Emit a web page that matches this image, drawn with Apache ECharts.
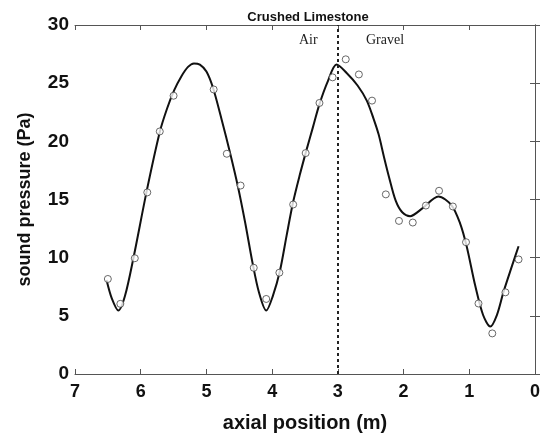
<!DOCTYPE html>
<html>
<head>
<meta charset="utf-8">
<script src="https://cdn.jsdelivr.net/npm/echarts@6/dist/echarts.min.js"></script>
<style>
html,body{margin:0;padding:0;background:#fff;}
#c{width:547px;height:438px;}
</style>
</head>
<body>
<div id="c"></div>
<script>
// Measured points (axial position m, sound pressure Pa)
const measX = [6.50, 6.31, 6.09, 5.90, 5.71, 5.50, 4.89, 4.69, 4.48, 4.28, 4.09, 3.89, 3.68, 3.49, 3.28, 3.08, 2.88, 2.68, 2.48, 2.27, 2.07, 1.86, 1.66, 1.46, 1.25, 1.05, 0.86, 0.65, 0.45, 0.25];
const measY = [8.17, 6.03, 9.95, 15.61, 20.85, 23.92, 24.46, 18.93, 16.2, 9.13, 6.45, 8.71, 14.57, 18.99, 23.3, 25.5, 27.05, 25.75, 23.5, 15.44, 13.16, 13.02, 14.48, 15.75, 14.4, 11.33, 6.06, 3.49, 7.02, 9.85];

// Fitted curve
const fitX = [6.52, 6.44, 6.34, 6.24, 6.11, 5.91, 5.71, 5.60, 5.49, 5.38, 5.28, 5.19, 5.10, 5.00, 4.90, 4.77, 4.64, 4.52, 4.41, 4.30, 4.20, 4.09, 3.99, 3.88, 3.78, 3.68, 3.58, 3.48, 3.38, 3.28, 3.15, 3.02, 2.87, 2.70, 2.56, 2.46, 2.38, 2.30, 2.22, 2.12, 2.02, 1.90, 1.72, 1.47, 1.27, 1.14, 1.04, 0.91, 0.79, 0.68, 0.58, 0.48, 0.35, 0.25];
const fitY = [8.08, 6.5, 5.45, 6.7, 9.99, 15.7, 20.8, 22.8, 24.4, 25.6, 26.4, 26.7, 26.6, 26.0, 24.6, 21.9, 19.0, 16.1, 13.0, 9.6, 7.0, 5.45, 6.7, 8.9, 11.9, 14.8, 17.1, 19.2, 21.2, 23.2, 25.2, 26.6, 25.9, 24.8, 23.5, 22.0, 20.6, 18.7, 16.9, 14.9, 13.9, 13.57, 14.21, 15.26, 14.5, 12.95, 10.98, 7.6, 5.07, 4.08, 5.07, 7.04, 9.29, 10.98];

const boundaryX = 3;

const chart = echarts.init(document.getElementById('c'), null, {renderer: 'canvas'});
const axisCol = '#555';
const lblFont = 'Liberation Sans, Arial, sans-serif';

const option = {
  backgroundColor: '#fff',
  animation: false,
  title: {
    text: 'Crushed Limestone',
    left: 303, top: 6, textAlign: 'center',
    textStyle: {fontFamily: 'Liberation Sans Narrow, Liberation Sans, Arial', fontWeight: 'bold', fontSize: 13, color: '#111'}
  },
  grid: {left: 75, right: 12, top: 25, bottom: 58, show: false},
  xAxis: [{
    type: 'value', min: 0, max: 7, interval: 1, inverse: true, position: 'bottom',
    name: 'axial position (m)', nameLocation: 'middle', nameGap: 39,
    nameTextStyle: {fontFamily: lblFont, fontWeight: 'bold', fontSize: 20, color: '#111'},
    axisLine: {show: true, lineStyle: {color: axisCol, width: 1}},
    axisTick: {show: true, inside: true, length: 5, lineStyle: {color: axisCol}},
    axisLabel: {fontFamily: lblFont, fontWeight: 'bold', fontSize: 18, color: '#111', margin: 9},
    splitLine: {show: false}
  }, {
    type: 'value', min: 0, max: 7, interval: 1, inverse: true, position: 'top',
    axisLine: {show: true, onZero: false, lineStyle: {color: axisCol, width: 1}},
    axisTick: {show: true, inside: true, length: 5, lineStyle: {color: axisCol}},
    axisLabel: {show: false}, splitLine: {show: false}
  }],
  yAxis: [{
    type: 'value', min: 0, max: 30, interval: 5, position: 'left',
    name: 'sound pressure (Pa)', nameLocation: 'middle', nameGap: 41,
    nameTextStyle: {fontFamily: lblFont, fontWeight: 'bold', fontSize: 18, color: '#111'},
    axisLine: {show: true, lineStyle: {color: axisCol, width: 1}},
    axisTick: {show: true, inside: true, length: 5, lineStyle: {color: axisCol}},
    axisLabel: {fontFamily: lblFont, fontWeight: 'bold', fontSize: 19, color: '#111', margin: 6},
    splitLine: {show: false}
  }, {
    type: 'value', min: 0, max: 30, interval: 5, position: 'right',
    axisLine: {show: true, onZero: false, lineStyle: {color: axisCol, width: 1}},
    axisTick: {show: true, inside: true, length: 5, lineStyle: {color: axisCol}},
    axisLabel: {show: false}, splitLine: {show: false}
  }],
  series: [{
    type: 'line',
    data: fitX.map((x, i) => [x, fitY[i]]),
    smooth: 0.3,
    showSymbol: false,
    lineStyle: {color: '#111', width: 2},
    z: 3,
    markLine: {
      silent: true, symbol: 'none',
      lineStyle: {color: '#222', type: [3, 3], width: 2},
      label: {show: false},
      data: [[{coord: [boundaryX, 0]}, {coord: [boundaryX, 30]}]]
    }
  }, {
    type: 'scatter',
    data: measX.map((x, i) => [x, measY[i]]),
    symbol: 'circle', symbolSize: 7,
    itemStyle: {color: '#fff', borderColor: '#444', borderWidth: 1},
    z: 4
  }],
  graphic: [
    {type: 'text', left: 299, top: 33, style: {text: 'Air', font: '14px "Liberation Serif", "DejaVu Serif", serif', fill: '#222'}},
    {type: 'text', left: 366, top: 33, style: {text: 'Gravel', font: '14px "Liberation Serif", "DejaVu Serif", serif', fill: '#222'}}
  ]
};
chart.setOption(option);
</script>
</body>
</html>
